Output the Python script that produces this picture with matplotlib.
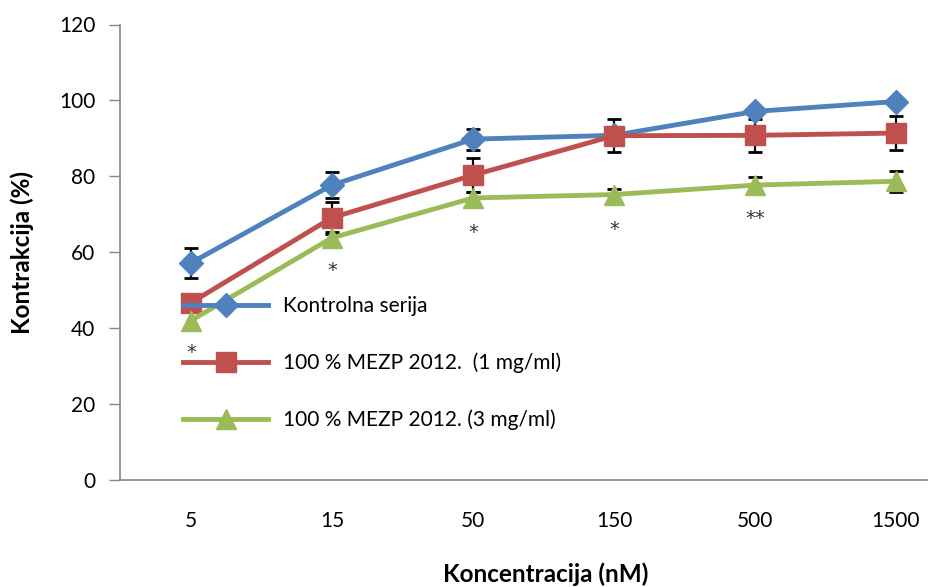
import numpy as np
import matplotlib.pyplot as plt

# categories (nM)
konc = ["5", "15", "50", "150", "500", "1500"]

kontrola = [57.2, 77.7, 89.8, 90.8, 97.1, 99.7]
kontrola_err = [4.0, 3.4, 2.8, 1.0, 1.0, 0.8]

mezp_1 = [46.7, 69.1, 80.3, 90.7, 90.8, 91.4]
mezp_1_err = [1.5, 4.2, 4.4, 4.3, 4.3, 4.5]

mezp_3 = [42.0, 63.8, 74.3, 75.2, 77.7, 78.7]
mezp_3_err = [2.6, 1.5, 1.5, 1.4, 2.2, 2.7]

# significance marks
sig_text = ["*", "*", "*", "*", "**"]
sig_y = [33.6, 55.1, 65.1, 66.1, 69.0]

plt.rcParams['font.family'] = ['Lato', 'DejaVu Sans']

fig = plt.figure(figsize=(9.29, 5.87), dpi=100)
W, H = 929, 587
ax = fig.add_axes([120.5 / W, (H - 480) / H, 846 / W, (480 - 24.5) / H])

x = np.arange(len(konc))
series = [
    (kontrola, kontrola_err, "#4F81BD", "D", 12, "Kontrolna serija"),
    (mezp_1, mezp_1_err, "#C0504D", "s", 14, "100 % MEZP 2012.  (1 mg/ml)"),
    (mezp_3, mezp_3_err, "#9BBB59", "^", 14, "100 % MEZP 2012. (3 mg/ml)"),
]
handles = []
for vals, err, col, mk, ms, lab in series:
    ax.errorbar(x, vals, yerr=err, fmt="none", ecolor="black", elinewidth=1.6,
                capsize=5, capthick=2, zorder=2)
    h, = ax.plot(x, vals, color=col, lw=3.5, marker=mk, markersize=ms,
                 markerfacecolor=col, markeredgecolor=col, label=lab, zorder=3)
    handles.append(h)

for i, (t, yy) in enumerate(zip(sig_text, sig_y)):
    ax.text(x[i], yy, t, ha="center", va="center", fontsize=14,
            family="DejaVu Sans", color="#333333")

ax.set_xlim(-0.5, 5.5)
ax.set_ylim(0, 120)
ax.set_yticks(np.arange(0, 121, 20))
ax.set_xticks(x)
ax.set_xticklabels(konc)
ax.tick_params(axis="y", length=8, width=1, color="#888888", labelsize=15, pad=10)
ax.tick_params(axis="x", length=0, labelsize=15, pad=22)
for s in ["top", "right"]:
    ax.spines[s].set_visible(False)
for s in ["left", "bottom"]:
    ax.spines[s].set_color("#888888")
    ax.spines[s].set_linewidth(1.2)

fig.text(546 / W, 1 - 574 / H, "Koncentracija (nM)", ha="center", va="center",
         fontsize=17.5, fontweight="bold")
fig.text(22 / W, 1 - 252 / H, "Kontrakcija (%)", ha="center", va="center",
         fontsize=17.5, fontweight="bold", rotation=90)

leg = ax.legend(handles=handles, loc="upper left", frameon=False, fontsize=15,
                numpoints=1, handlelength=4.1, handletextpad=0.7, labelspacing=1.75,
                bbox_to_anchor=((183 - 120.5) / 846, (480 - 296) / 455.5),
                borderaxespad=0, borderpad=0)

fig.savefig("out.png", dpi=100)
